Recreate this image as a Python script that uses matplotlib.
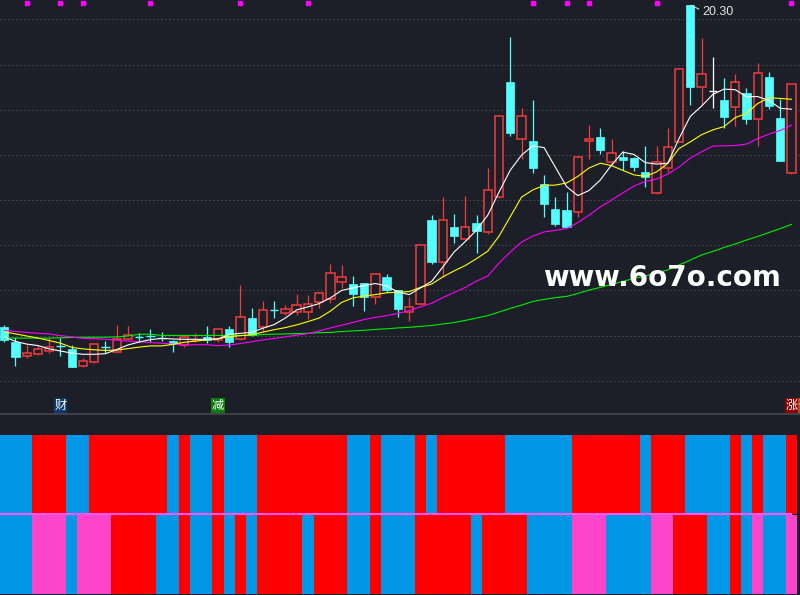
import matplotlib
matplotlib.use("Agg")
import matplotlib.pyplot as plt
from matplotlib.patches import Rectangle

plt.rcParams["font.family"] = ["Noto Sans CJK SC", "DejaVu Sans"]

# -----------------------------
# Candles (price)
# -----------------------------
opens = [9.58, 9.08, 8.61, 8.66, 8.76, 8.95, 8.84, 8.28, 8.41, 8.92,
         8.73, 9.16, 9.24, 9.28, 9.22, 9.11, 8.97, 9.13, 9.25, 9.14,
         9.50, 9.16, 9.86, 9.56, 10.15, 10.05, 10.08, 10.06, 10.41, 10.49,
         11.06, 10.99, 11.03, 10.58, 11.23, 10.80, 10.08, 10.33, 13.14, 11.75,
         12.91, 12.50, 13.05, 12.73, 13.91, 17.75, 15.83, 15.77, 14.33, 13.50,
         13.47, 13.39, 15.76, 15.91, 15.08, 15.23, 15.19, 14.75, 14.03, 14.86,
         15.75, 20.30, 17.56, 17.44, 17.14, 16.89, 17.36, 16.49, 17.89, 16.55,
         14.69]
highs = [9.64, 9.23, 8.97, 8.95, 9.19, 9.21, 8.97, 8.55, 9.00, 9.10,
         9.64, 9.60, 9.36, 9.50, 9.39, 9.12, 9.27, 9.36, 9.60, 9.55,
         9.60, 10.97, 10.19, 10.44, 10.44, 10.30, 10.67, 10.64, 10.75, 11.66,
         11.64, 11.27, 11.04, 11.38, 11.34, 10.81, 10.58, 12.31, 13.30, 13.91,
         13.33, 13.95, 13.30, 14.86, 16.62, 19.25, 16.88, 17.14, 14.64, 13.91,
         14.08, 15.24, 16.30, 16.21, 15.83, 15.45, 15.24, 15.60, 15.60, 16.19,
         18.17, 20.30, 19.19, 18.56, 17.86, 18.00, 17.53, 18.38, 18.08, 17.17,
         17.67]
lows = [9.08, 8.27, 8.55, 8.64, 8.71, 8.60, 8.24, 8.25, 8.38, 8.71,
        8.69, 9.15, 9.08, 9.08, 9.11, 8.75, 8.89, 9.08, 9.03, 9.08,
        8.91, 9.14, 9.27, 9.41, 9.86, 9.97, 9.97, 9.84, 10.21, 10.38,
        10.88, 10.28, 10.11, 10.34, 10.75, 9.91, 9.78, 10.30, 11.67, 11.25,
        12.36, 12.47, 12.03, 12.67, 13.87, 15.94, 15.16, 14.69, 13.23, 12.94,
        12.90, 13.23, 15.17, 15.34, 14.95, 14.80, 14.78, 14.25, 14.02, 14.75,
        15.74, 16.97, 16.97, 16.88, 16.19, 16.28, 16.33, 15.61, 16.83, 15.09,
        14.68]
closes = [9.14, 8.58, 8.69, 8.84, 8.89, 8.94, 8.25, 8.44, 8.99, 8.91,
          9.16, 9.30, 9.21, 9.26, 9.21, 9.00, 9.23, 9.15, 9.14, 9.49,
          9.08, 9.89, 9.30, 10.13, 10.13, 10.17, 10.29, 10.33, 10.69, 11.36,
          11.23, 10.68, 10.58, 11.33, 10.80, 10.17, 10.25, 12.30, 11.73, 13.14,
          12.60, 12.89, 12.77, 14.14, 16.60, 16.05, 16.60, 14.88, 13.67, 13.00,
          12.91, 15.23, 15.83, 15.47, 15.36, 15.14, 14.91, 14.56, 15.08, 15.56,
          18.16, 17.58, 17.99, 17.44, 16.58, 17.73, 16.49, 18.03, 16.95, 15.10,
          17.66]

# -----------------------------
# Moving averages
# -----------------------------
ma5 = [9.24, 9.09, 9.00, 8.95, 8.84, 8.77, 8.70, 8.66, 8.66, 8.68,
       8.82, 8.97, 9.07, 9.15, 9.19, 9.17, 9.16, 9.16, 9.16, 9.17,
       9.32, 9.36, 9.39, 9.53, 9.65, 9.87, 10.14, 10.24, 10.35, 10.54,
       10.79, 10.87, 10.95, 11.02, 10.94, 10.74, 10.65, 10.87, 11.09, 11.57,
       12.07, 12.42, 12.80, 13.30, 14.07, 14.80, 15.30, 15.61, 15.55, 14.90,
       14.25, 13.95, 14.12, 14.47, 14.97, 15.40, 15.32, 15.05, 15.00, 15.03,
       15.85, 16.59, 16.93, 17.32, 17.50, 17.48, 17.25, 17.25, 17.12, 16.86,
       16.83]
ma10 = [9.41, 9.34, 9.27, 9.20, 9.12, 9.03, 8.89, 8.84, 8.81, 8.79,
        8.80, 8.85, 8.90, 8.94, 8.94, 8.99, 9.06, 9.10, 9.14, 9.18,
        9.25, 9.28, 9.31, 9.40, 9.48, 9.55, 9.64, 9.75, 9.87, 10.10,
        10.39, 10.54, 10.60, 10.65, 10.71, 10.73, 10.75, 10.89, 11.00, 11.24,
        11.44, 11.62, 11.85, 12.10, 12.60, 13.25, 13.90, 14.14, 14.29, 14.30,
        14.37, 14.59, 14.87, 15.03, 14.95, 14.79, 14.64, 14.59, 14.74, 15.02,
        15.52, 15.74, 15.98, 16.14, 16.25, 16.55, 16.69, 17.02, 17.21, 17.19,
        17.16]
ma20 = [9.46, 9.42, 9.39, 9.36, 9.34, 9.28, 9.24, 9.19, 9.18, 9.16,
        9.13, 9.10, 9.08, 9.05, 9.03, 9.00, 8.97, 8.98, 8.98, 8.95,
        8.97, 9.02, 9.08, 9.14, 9.19, 9.24, 9.30, 9.35, 9.44, 9.54,
        9.63, 9.72, 9.82, 9.89, 9.95, 10.02, 10.12, 10.24, 10.36, 10.55,
        10.72, 10.89, 11.10, 11.27, 11.70, 12.07, 12.40, 12.60, 12.74, 12.79,
        12.85, 13.05, 13.30, 13.57, 13.80, 14.04, 14.27, 14.42, 14.50, 14.67,
        14.90, 15.20, 15.41, 15.60, 15.61, 15.62, 15.67, 15.85, 16.00, 16.12,
        16.30]
ma60 = [9.20, 9.20, 9.20, 9.20, 9.20, 9.21, 9.22, 9.23, 9.23, 9.23,
        9.24, 9.27, 9.33, 9.33, 9.29, 9.29, 9.29, 9.29, 9.29, 9.29,
        9.29, 9.29, 9.29, 9.32, 9.33, 9.34, 9.35, 9.36, 9.38, 9.39,
        9.42, 9.44, 9.46, 9.49, 9.51, 9.54, 9.56, 9.59, 9.62, 9.67,
        9.72, 9.79, 9.87, 9.95, 10.07, 10.19, 10.30, 10.42, 10.49, 10.55,
        10.59, 10.69, 10.80, 10.89, 10.99, 11.09, 11.19, 11.27, 11.37, 11.47,
        11.64, 11.80, 11.97, 12.09, 12.22, 12.34, 12.47, 12.59, 12.72, 12.85,
        12.99]

# top magenta dots, bottom labels
dot_idx = [2, 5, 7, 13, 21, 27, 47, 50, 52, 58, 70]
tag_text = ["财", "减", "涨", "停"]
tag_idx = [5, 19, 70, 71.15]
tag_color = ["#0d3a6b", "#0a7d0a", "#8b0000", "#a0561c"]

peak_label = "20.30"
grid_levels = [19.83, 18.32, 16.81, 15.31, 13.80, 12.29, 10.79, 9.28, 7.77]

# signal strips (B blue, R red, P pink)
top_row = ("BBB" "RRR" "BB" "RRRRRRR" "B" "R" "BB" "R" "BBB" "RRRRRRRR"
           "BB" "R" "BBB" "R" "B" "RRRRRR" "BBBBBB" "RRRRRR" "B" "RRR"
           "BBBB" "R" "B" "R" "BB" "R")
bottom_row = ("BBB" "PPP" "B" "PPP" "RRRR" "BB" "R" "BB" "R" "B" "R" "B"
              "RRRR" "B" "RRR" "BB" "R" "BBB" "RRRRR" "B" "RRRR" "BBBB"
              "PPP" "BBBB" "PP" "RRR" "BB" "R" "B" "P" "BB" "P")

# -----------------------------
# Style
# -----------------------------
BG = "#1c1f27"
RED = "#f23b3b"
CYAN = "#54ffff"
strip_colors = {"B": "#0097e6", "R": "#ff0000", "P": "#ff44cc"}

W, H = 800, 595
split = 413
fig = plt.figure(figsize=(W / 100, H / 100), dpi=100, facecolor=BG)
ax = fig.add_axes([0, (H - split) / H, 1, split / H])
ax2 = fig.add_axes([0, 0, 1, (H - split) / H])

step = 11.246
x0 = 4.25
xlim = (-x0 / step, (W - x0) / step)
ytop = 20.47
ylim = (ytop - split / 30.0, ytop)

for a in (ax, ax2):
    a.set_facecolor(BG)
    a.set_xlim(*xlim)
    for s in a.spines.values():
        s.set_visible(False)
    a.tick_params(left=False, bottom=False, labelleft=False, labelbottom=False)

ax.set_ylim(*ylim)
ax.set_xticks([])
ax.set_yticks(grid_levels)
ax.grid(axis="y", color="#4d515b", linewidth=0.75, linestyle=(0, (1.3, 2.55)))
ax.set_axisbelow(True)

# -----------------------------
# Candles
# -----------------------------
bw = 0.74
for i, (o, h, l, c) in enumerate(zip(opens, highs, lows, closes)):
    if abs(c - o) < 0.045:
        col = "#ffffff" if c == o else (RED if c > o else CYAN)
        ax.vlines(i, l, h, color=col, linewidth=0.9, zorder=2)
        ax.hlines((o + c) / 2, i - bw / 2, i + bw / 2, color=col, linewidth=1.0, zorder=2)
    elif c > o:
        ax.vlines(i, c, h, color=RED, linewidth=0.9, zorder=2)
        ax.vlines(i, l, o, color=RED, linewidth=0.9, zorder=2)
        ax.add_patch(Rectangle((i - bw / 2, o), bw, c - o, facecolor=BG,
                               edgecolor=RED, linewidth=1.1, zorder=3))
    else:
        ax.vlines(i, l, h, color=CYAN, linewidth=0.9, zorder=2)
        ax.add_patch(Rectangle((i - bw / 2, c), bw, o - c, facecolor=CYAN,
                               edgecolor=CYAN, linewidth=0.5, zorder=3))

# -----------------------------
# Moving averages
# -----------------------------
xs = list(range(len(closes)))
ax.plot(xs, ma60, color="#00ee00", linewidth=0.8, zorder=4)
ax.plot(xs, ma20, color="#ff00ff", linewidth=0.8, zorder=4)
ax.plot(xs, ma10, color="#ffff00", linewidth=0.8, zorder=4)
ax.plot(xs, ma5, color="#ffffff", linewidth=0.8, zorder=4)

# magenta dots along the top
ax.plot(dot_idx, [ytop - 3.3 / 30] * len(dot_idx), linestyle="none",
        marker="s", markersize=2.3, color="#ff00ff", zorder=5)

# peak label
pk = highs.index(max(highs))
ax.plot([pk + 0.08, pk + 0.75], [max(highs) - 0.01, max(highs) - 0.13],
        color="#d8d8d8", linewidth=0.8, zorder=6)
ax.text(pk + 1.1, max(highs) - 0.22, peak_label, color="#e4e4e4", fontsize=9,
        family=["Liberation Sans", "DejaVu Sans"], ha="left", va="center", zorder=6)

# watermark
ax.text(58.49, ytop - 285.7 / 30, "www.6o7o.com", color="white", fontsize=20,
        fontweight="bold", family=["DejaVu Sans"], ha="center", va="baseline", zorder=7)

# event tags
for t, xi, fc in zip(tag_text, tag_idx, tag_color):
    ax.text(xi, ytop - 405.5 / 30, t, color="white", fontsize=8.8, ha="center",
            va="center", zorder=8, clip_on=True,
            bbox=dict(boxstyle="square,pad=0.06", facecolor=fc, edgecolor="none"))

# -----------------------------
# Signal strips
# -----------------------------
ax2.set_ylim(H, split)
ax2.axhline(split + 0.8, color="#3c414c", linewidth=1.4)
n = len(top_row)
ax2.bar(range(n), [594 - 514.7] * n, bottom=514.7, width=1.0,
        color=[strip_colors[k] for k in bottom_row], linewidth=0)
ax2.hlines(513.7, xlim[0], n - 0.98, color="#ff55ff", linewidth=1.5)
ax2.bar(range(n), [512.7 - 435] * n, bottom=435, width=1.0,
        color=[strip_colors[k] for k in top_row], linewidth=0)
ax2.bar([n - 1], [514.5 - 435], bottom=435, width=1.0,
        color=strip_colors[top_row[-1]], linewidth=0)

fig.savefig("out.png", dpi=100, facecolor=BG)
